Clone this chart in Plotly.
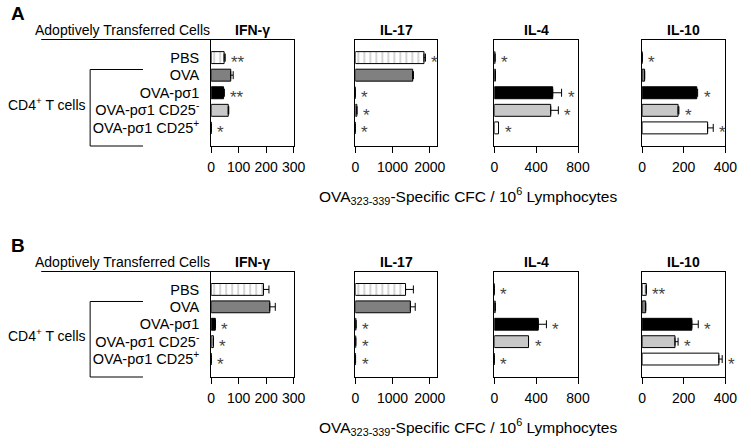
import plotly.graph_objects as go

W, H = 751, 448
FONT = "Arial, Liberation Sans, sans-serif"

categories = ["PBS", "OVA", "OVA-pσ1", "OVA-pσ1 CD25<sup>-</sup>", "OVA-pσ1 CD25<sup>+</sup>"]
bar_colors = ["white", "#808080", "black", "#c8c8c8", "white"]
bar_patterns = ["|", "", "", "", ""]

cytokines = ["IFN-γ", "IL-17", "IL-4", "IL-10"]
x_max = [300, 2200, 800, 400]
x_ticks = [[0, 100, 200, 300], [0, 1000, 2000], [0, 400, 800], [0, 200, 400]]

# panel A
ifn_a = [47, 71, 45, 62, 0]
ifn_a_err = [4, 9, 3, 2, 0]
ifn_a_sig = ["**", "", "**", "", "*"]
il17_a = [1843, 1540, 0, 40, 0]
il17_a_err = [40, 20, 0, 0, 0]
il17_a_sig = ["*", "", "*", "*", "*"]
il4_a = [6, 10, 558, 539, 40]
il4_a_err = [0, 0, 85, 73, 0]
il4_a_sig = ["*", "", "*", "*", "*"]
il10_a = [0, 12, 263, 173, 315]
il10_a_err = [0, 0, 4, 4, 27]
il10_a_sig = ["*", "", "*", "*", "*"]

# panel B
ifn_b = [190, 213, 15, 8, 0]
ifn_b_err = [20, 20, 0, 0, 0]
ifn_b_sig = ["", "", "*", "*", "*"]
il17_b = [1348, 1478, 15, 10, 5]
il17_b_err = [210, 130, 0, 0, 0]
il17_b_sig = ["", "", "*", "*", "*"]
il4_b = [0, 8, 420, 327, 0]
il4_b_err = [0, 0, 78, 0, 0]
il4_b_sig = ["*", "", "*", "*", "*"]
il10_b = [20, 17, 239, 158, 369]
il10_b_err = [0, 0, 31, 15, 16]
il10_b_sig = ["**", "", "*", "*", "*"]

panels = [
    ("A", [(ifn_a, ifn_a_err, ifn_a_sig), (il17_a, il17_a_err, il17_a_sig),
           (il4_a, il4_a_err, il4_a_sig), (il10_a, il10_a_err, il10_a_sig)]),
    ("B", [(ifn_b, ifn_b_err, ifn_b_sig), (il17_b, il17_b_err, il17_b_sig),
           (il4_b, il4_b_err, il4_b_sig), (il10_b, il10_b_err, il10_b_sig)]),
]

# pixel layout of the plot boxes
col_px = [(211.7, 296), (359, 442.7), (501, 586.5), (652, 737)]
row_px = [(39.5, 146), (271.5, 377)]


def px(x):
    return x / W


def py(y):
    return 1 - y / H


def label(text, x, y, size=14, anchor="center"):
    return dict(text=text, x=px(x), y=py(y), xref="paper", yref="paper",
                xanchor=anchor, yanchor="middle", showarrow=False,
                font=dict(size=size, color="black", family=FONT))


fig = go.Figure()
layout = {}
annotations = []
shapes = []

for r, (letter, data) in enumerate(panels):
    top, bottom = row_px[r]
    for c, (vals, errs, sig) in enumerate(data):
        idx = r * 4 + c + 1
        sfx = "" if idx == 1 else str(idx)
        fig.add_trace(go.Bar(
            x=vals, y=list(range(len(categories))), orientation="h",
            width=0.68,
            marker=dict(color=bar_colors, line=dict(color="black", width=1),
                        pattern=dict(shape=bar_patterns, fgcolor="black",
                                     bgcolor="white", size=6, solidity=0.15)),
            error_x=dict(type="data", array=errs, arrayminus=[0] * len(errs),
                         symmetric=False, color="black", thickness=1, width=4),
            xaxis="x" + sfx, yaxis="y" + sfx, showlegend=False,
        ))
        x0, x1 = col_px[c]
        layout["xaxis" + sfx] = dict(
            domain=[px(x0), px(x1)], anchor="y" + sfx, range=[0, x_max[c]],
            tickvals=x_ticks[c], ticks="outside", ticklen=6, tickcolor="black",
            showline=True, mirror=True, linecolor="black", linewidth=1,
            showgrid=False, zeroline=False, ticklabelstandoff=2,
            tickfont=dict(size=14, color="black", family=FONT),
        )
        layout["yaxis" + sfx] = dict(
            domain=[py(bottom), py(top)], anchor="x" + sfx, range=[5.03, -1.03],
            showline=True, mirror=True, linecolor="black", linewidth=1,
            showgrid=False, zeroline=False, ticks="",
            showticklabels=(c == 0), tickvals=list(range(len(categories))),
            ticktext=categories, ticklabelstandoff=8,
            tickfont=dict(size=14.5, color="black", family=FONT),
        )
        # cytokine title
        annotations.append(label("<b>%s</b>" % cytokines[c], (x0 + x1) / 2, top - 10))
        # significance stars
        for i, s in enumerate(sig):
            if s:
                annotations.append(dict(
                    text=s, x=vals[i] + errs[i], y=i, xref="x" + sfx, yref="y" + sfx,
                    xanchor="left", yanchor="middle", xshift=4, yshift=-5,
                    showarrow=False, font=dict(size=17, color="#444", family=FONT),
                ))

    # panel letter and row header
    annotations.append(label("<b>%s</b>" % letter, 5, top - 26, size=19, anchor="left"))
    annotations.append(label("Adoptively Transferred Cells", 213, top - 10, anchor="right"))
    shapes.append(dict(type="line", xref="paper", yref="paper",
                       x0=px(38), x1=px(211.7), y0=py(top), y1=py(top),
                       line=dict(color="black", width=1)))
    # CD4+ bracket
    br_top = top + 30
    br_bot = bottom
    shapes.append(dict(type="path", xref="paper", yref="paper",
                       path="M %f %f L %f %f L %f %f L %f %f" % (
                           px(142), py(br_top), px(88), py(br_top),
                           px(88), py(br_bot), px(142), py(br_bot)),
                       line=dict(color="black", width=1)))
    annotations.append(label("CD4<sup>+</sup> T cells", 86, (br_top + br_bot) / 2 - 4, anchor="right"))
    # shared x title
    annotations.append(label("OVA<sub>323-339</sub>-Specific CFC / 10<sup>6</sup> Lymphocytes",
                             474, bottom + 50, size=15.5))

fig.update_layout(
    width=W, height=H,
    margin=dict(l=0, r=0, t=0, b=0),
    paper_bgcolor="white", plot_bgcolor="white",
    bargap=0.3,
    annotations=annotations, shapes=shapes,
    **layout,
)

fig.write_html("out.html", config={"displayModeBar": False},
               post_script="document.body.style.margin='0px';")
